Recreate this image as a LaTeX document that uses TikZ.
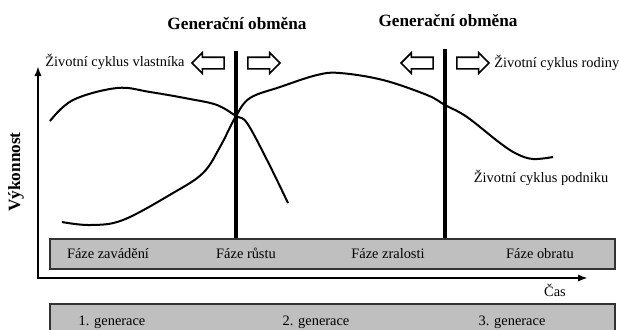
\documentclass[tikz,border=0pt]{standalone}
\usepackage{fontspec}
\setmainfont{Liberation Serif}
\usetikzlibrary{arrows.meta,shapes.arrows}

\begin{document}
\begin{tikzpicture}[
        x=0.5pt, y=-0.5pt,
        >={Latex[length=5pt,width=3.6pt]},
        txt/.style={font=\fontsize{7.2}{8}\selectfont, inner sep=0pt},
        pruhtxt/.style={txt, anchor=base},
        nadpis/.style={font=\fontsize{8.6}{10}\selectfont\bfseries, inner sep=0pt},
        pruh/.style={draw=black!80, line width=1pt, fill=black!25},
        hranice/.style={line width=2pt},
        krivka/.style={line width=1pt},
        osa/.style={line width=1pt},
        obr/.style={single arrow, draw, line width=0.8pt, minimum height=16pt, minimum width=9.5pt, single arrow head extend=2.25pt, inner sep=2.5pt}
      ]
      \clip (0,0) rectangle (619,329);

      \node[nadpis] (gen1) at (237,24) {Generační obměna};
      \node[nadpis] (gen2) at (448,21) {Generační obměna};
      \node[txt, anchor=west] (vlastnik) at (45,62) {Životní cyklus vlastníka};
      \node[txt, anchor=west] (rodina) at (494,63) {Životní cyklus rodiny};
      \node[txt] (podnik) at (541,178) {Životní cyklus podniku};
      \node[nadpis, rotate=90] (vykon) at (16,172) {Výkonnost};
      \node[txt] (cas) at (555,290) {Čas};

      \node[obr, shape border rotate=180] (obr1l) at (211,63) {};
      \node[obr] (obr1r) at (261,63) {};
      \node[obr, shape border rotate=180] (obr2l) at (420,63) {};
      \node[obr] (obr2r) at (470,63) {};

      \draw[hranice] (236,51) -- (236,239);
      \draw[hranice] (445,49) -- (445,239);

      \draw[krivka] plot[smooth, tension=0.6] coordinates {(50,121) (73,100) (117,88) (150,92) (190,99) (217,105) (236,116) (247,123) (267,160) (288,203)};
      \draw[krivka] plot[smooth, tension=0.6] coordinates {(62,222) (90,225) (123,220) (173,193) (203,173) (220,147) (236,116) (250,98) (280,87) (317,75) (340,73) (383,80) (427,95) (445,105) (467,117) (500,143) (517,154) (533,159) (553,157)};

      \coordinate (O) at (38,278);
      \coordinate (ytop) at (38,66);
      \coordinate (xend) at (588,278);
      \draw[osa, <->] (ytop) -- (O) -- (xend);

      \draw[pruh] (50,239) rectangle (615,269);
      \node[pruhtxt] (f1) at (108,258) {Fáze zavádění};
      \node[pruhtxt] (f2) at (246,258) {Fáze růstu};
      \node[pruhtxt] (f3) at (388,258) {Fáze zralosti};
      \node[pruhtxt] (f4) at (540,258) {Fáze obratu};

      \draw[pruh] (50,304) rectangle (615,340);
      \node[pruhtxt] (g1) at (112,325) {1. generace};
      \node[pruhtxt] (g2) at (316,325) {2. generace};
      \node[pruhtxt] (g3) at (512,325) {3. generace};
    \end{tikzpicture}
\end{document}
